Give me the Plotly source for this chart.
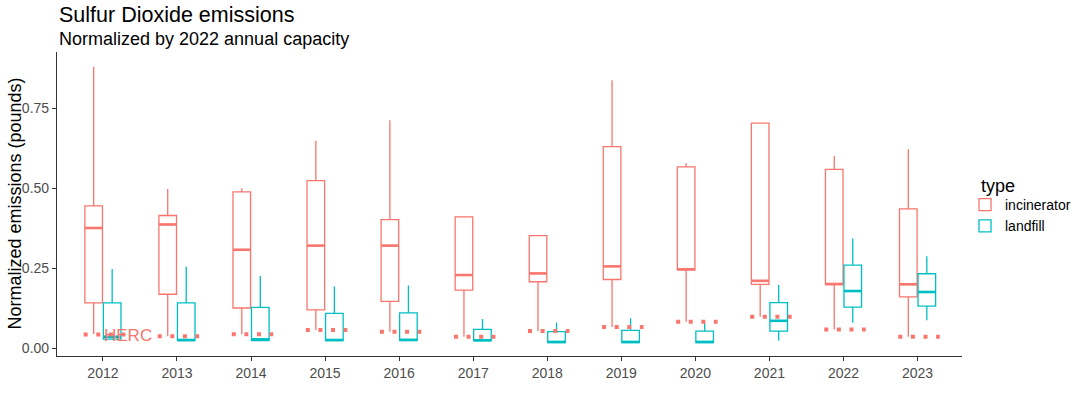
import plotly.graph_objects as go

years = [2012, 2013, 2014, 2015, 2016, 2017, 2018, 2019, 2020, 2021, 2022, 2023]

# incinerator box stats
inc_low = [0.045, 0.038, 0.044, 0.057, 0.052, 0.036, 0.054, 0.067, 0.083, 0.099, 0.059, 0.036]
inc_q1 = [0.142, 0.169, 0.126, 0.120, 0.147, 0.182, 0.208, 0.215, 0.245, 0.200, 0.199, 0.161]
inc_med = [0.376, 0.387, 0.308, 0.321, 0.321, 0.229, 0.234, 0.256, 0.247, 0.211, 0.201, 0.200]
inc_q3 = [0.445, 0.415, 0.489, 0.524, 0.402, 0.411, 0.352, 0.630, 0.567, 0.704, 0.559, 0.436]
inc_high = [0.880, 0.498, 0.500, 0.649, 0.713, 0.411, 0.352, 0.838, 0.578, 0.704, 0.601, 0.622]

# landfill box stats
lf_low = [0.029, 0.024, 0.024, 0.024, 0.025, 0.024, 0.018, 0.018, 0.018, 0.024, 0.080, 0.0875]
lf_q1 = [0.029, 0.024, 0.024, 0.024, 0.025, 0.024, 0.018, 0.018, 0.018, 0.054, 0.129, 0.132]
lf_med = [0.036, 0.026, 0.028, 0.026, 0.026, 0.025, 0.020, 0.020, 0.020, 0.086, 0.179, 0.176]
lf_q3 = [0.142, 0.142, 0.128, 0.109, 0.111, 0.059, 0.052, 0.056, 0.054, 0.143, 0.260, 0.233]
lf_high = [0.248, 0.255, 0.226, 0.193, 0.196, 0.092, 0.081, 0.094, 0.078, 0.198, 0.343, 0.288]

# HERC reference values
herc = [0.043, 0.038, 0.044, 0.057, 0.052, 0.036, 0.054, 0.067, 0.083, 0.099, 0.059, 0.036]
herc_label = "HERC"

RED = "#F8766D"
TEAL = "#00BFC4"
FONT = "Liberation Sans, Arial, sans-serif"

# dodge geometry (boxgap 0.5, two groups)
BOXGAP, GROUPGAP = 0.5, 0.05
SLOT = (1 - BOXGAP) / 2
HALF_W = SLOT * (1 - GROUPGAP) / 2

fig = go.Figure()

for name, color, lo, q1, med, q3, hi, off in [
    ("incinerator", RED, inc_low, inc_q1, inc_med, inc_q3, inc_high, -SLOT / 2),
    ("landfill", TEAL, lf_low, lf_q1, lf_med, lf_q3, lf_high, SLOT / 2),
]:
    fig.add_trace(go.Box(
        x=years, q1=q1, median=med, q3=q3, lowerfence=lo, upperfence=hi,
        name=name, line=dict(color=color, width=1.3),
        fillcolor="rgba(255,255,255,0)", whiskerwidth=0, boxpoints=False,
        hoverinfo="skip",
    ))
    # thicker median bars (ggplot fatten)
    mx, my = [], []
    for yr, m in zip(years, med):
        mx += [yr + off - HALF_W, yr + off + HALF_W, None]
        my += [m, m, None]
    fig.add_trace(go.Scatter(
        x=mx, y=my, mode="lines", line=dict(color=color, width=2.6),
        showlegend=False, hoverinfo="skip",
    ))

# HERC dotted segments
hx, hy = [], []
for yr, v in zip(years, herc):
    hx += [yr - 0.26, yr + 0.30, None]
    hy += [v, v, None]
fig.add_trace(go.Scatter(
    x=hx, y=hy, mode="lines",
    line=dict(color=RED, width=4, dash="4px,8.6px"),
    showlegend=False, hoverinfo="skip",
))

fig.add_annotation(
    x=years[0] + 0.34, y=herc[0] - 0.004, text=herc_label, showarrow=False,
    font=dict(family=FONT, size=17, color=RED), xanchor="center", yanchor="middle",
)

ML, MR, MT, MB = 57, 118, 52, 44
plot_w = 1080 - ML - MR
plot_h = 400 - MT - MB


def py(page_y):
    return (plot_h + MT - page_y) / plot_h


def px(page_x):
    return (page_x - ML) / plot_w


fig.add_annotation(
    x=0, xref="paper", xanchor="left", y=py(14.5), yref="paper", yanchor="middle",
    text="Sulfur Dioxide emissions", showarrow=False,
    font=dict(family=FONT, size=21.5, color="black"),
)
fig.add_annotation(
    x=0, xref="paper", xanchor="left", y=py(38.5), yref="paper", yanchor="middle",
    text="Normalized by 2022 annual capacity", showarrow=False,
    font=dict(family=FONT, size=18, color="black"),
)
fig.add_annotation(
    x=px(14.5), xref="paper", xanchor="center", y=0.5, yref="paper", yanchor="middle",
    text="Normalized emissions (pounds)", textangle=-90, showarrow=False,
    font=dict(family=FONT, size=18, color="black"),
)
fig.add_annotation(
    x=px(979), xref="paper", xanchor="left", y=py(186), yref="paper", yanchor="middle",
    text="type", showarrow=False,
    font=dict(family=FONT, size=18, color="black"),
)

fig.update_layout(
    width=1080, height=400,
    margin=dict(l=ML, r=MR, t=MT, b=MB, autoexpand=False),
    paper_bgcolor="white", plot_bgcolor="white",
    boxmode="group", boxgap=BOXGAP, boxgroupgap=GROUPGAP,
    font=dict(family=FONT, color="black"),
    legend=dict(
        x=px(965), xanchor="left", y=py(215.5), yanchor="middle",
        font=dict(size=14, color="black"),
        tracegroupgap=0,
    ),
    xaxis=dict(
        range=[2011.38, 2023.6], tickmode="array", tickvals=years,
        ticktext=[str(y) for y in years],
        showline=True, linecolor="#333333", linewidth=1.2,
        ticks="outside", ticklen=4, tickcolor="#333333",
        showgrid=False, zeroline=False, automargin=False,
        tickfont=dict(size=14, color="#4D4D4D"),
    ),
    yaxis=dict(
        range=[-0.024, 0.926], tickvals=[0, 0.25, 0.5, 0.75], tickformat=".2f",
        showline=True, linecolor="#333333", linewidth=1.2,
        ticks="outside", ticklen=4, tickcolor="#333333",
        showgrid=False, zeroline=False, automargin=False,
        tickfont=dict(size=14, color="#4D4D4D"),
    ),
)

fig.write_html(
    "out.html",
    config={"displayModeBar": False},
    post_script="document.body.style.margin='0';document.body.style.overflow='hidden';",
)
